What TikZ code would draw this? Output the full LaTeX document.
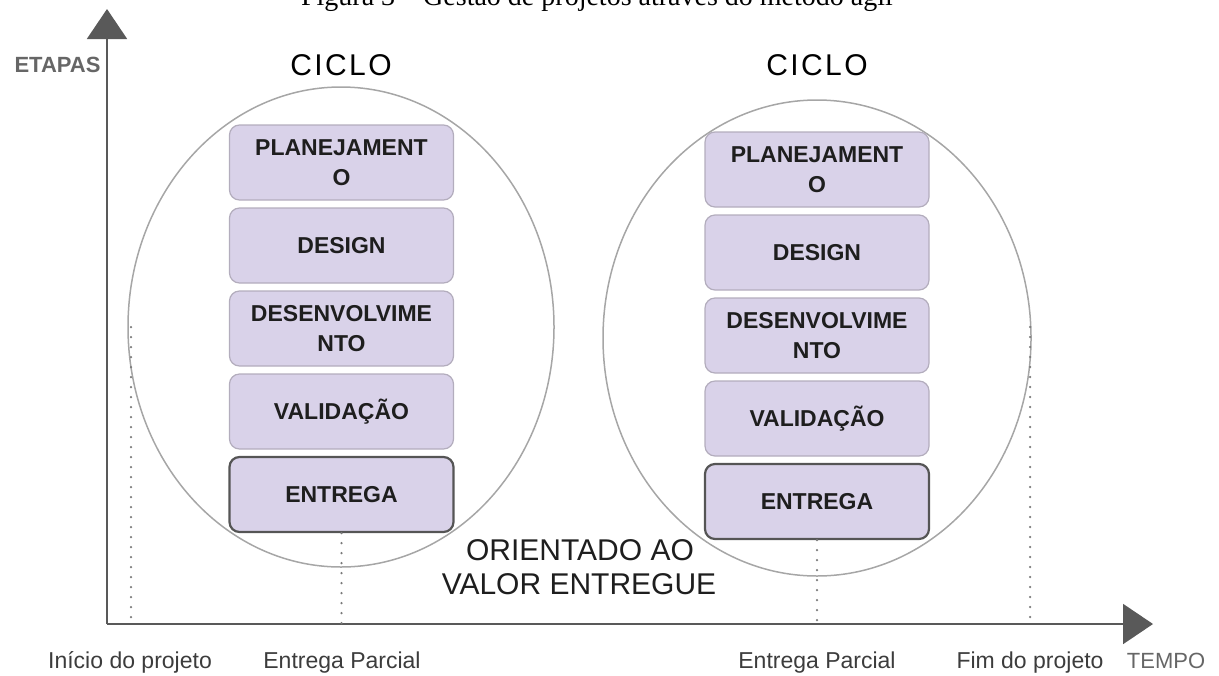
\documentclass[tikz,border=0pt]{standalone}
\usepackage{fontspec}
\setmainfont{Liberation Sans}
\newfontfamily\capfont{Liberation Serif}
\usetikzlibrary{shapes.geometric,arrows.meta}
\definecolor{axisgray}{HTML}{595959}
\definecolor{ringgray}{HTML}{A6A6A6}
\definecolor{dotgray}{HTML}{7A7A7A}
\definecolor{boxfill}{HTML}{D9D2E9}
\definecolor{boxline}{HTML}{B3ADBD}
\definecolor{finalline}{HTML}{555555}
\definecolor{boxtext}{HTML}{1E1E1E}
\definecolor{labelgray}{HTML}{3C3C3C}
\definecolor{axislabel}{HTML}{666666}
\begin{document}
\begin{tikzpicture}[x=0.5pt,y=-0.5pt,
  stagebox/.style={rectangle, rounded corners=5pt, fill=boxfill, draw=boxline, line width=0.6pt,
    minimum width=112pt, minimum height=37.5pt, inner sep=0pt, align=center,
    font=\fontsize{11.5}{15}\selectfont\bfseries, text=boxtext},
  finalbox/.style={stagebox, draw=finalline, line width=1.1pt},
  cycring/.style={ellipse, draw=ringgray, line width=0.75pt, inner sep=0pt, outer sep=0pt},
  axisline/.style={draw=axisgray, line width=1pt, -{Triangle[length=15pt,width=20pt]}},
  guide/.style={draw=dotgray, line width=1.25pt, line cap=round, dash pattern=on 0pt off 5pt},
  ciclo/.style={font=\fontsize{15}{18}\selectfont\addfontfeature{LetterSpace=8}, text=black, anchor=base, inner sep=0pt},
  bigtext/.style={font=\fontsize{15}{18}\selectfont, text=boxtext, anchor=base, inner sep=0pt},
  ticklabel/.style={font=\fontsize{11.5}{14}\selectfont, text=labelgray, anchor=base, inner sep=0pt},
  axlabel/.style={font=\fontsize{11}{14}\selectfont, text=axislabel, anchor=base, inner sep=0pt}
]
\useasboundingbox (0,0) rectangle (1219,675);

% caption (cut off at the top, as in the source)
\node[font=\capfont\fontsize{14}{16}\selectfont, anchor=base, inner sep=0pt] (caption) at (597,5)
  {Figura 3 – Gestão de projetos através do método ágil};

% cycle rings
\node[cycring, minimum width=213pt, minimum height=240pt] (ringA) at (341,327) {};
\node[cycring, minimum width=214pt, minimum height=238pt] (ringB) at (817,338) {};

% axes
\coordinate (origin) at (107,624);
\coordinate (ytip) at (107,9);
\coordinate (xtip) at (1153,624);
\draw[axisline] (origin) -- (ytip);
\draw[axisline] (origin) -- (xtip);

% left cycle stages
\node[stagebox] (planA) at (341.5,162.5) {PLANEJAMENT\\O};
\node[stagebox] (desA)  at (341.5,245.5) {DESIGN};
\node[stagebox] (devA)  at (341.5,328.5) {DESENVOLVIME\\NTO};
\node[stagebox] (valA)  at (341.5,411.5) {VALIDAÇÃO};
\node[finalbox] (entA)  at (341.5,494.5) {ENTREGA};

% right cycle stages
\node[stagebox] (planB) at (817,169.5) {PLANEJAMENT\\O};
\node[stagebox] (desB)  at (817,252.5) {DESIGN};
\node[stagebox] (devB)  at (817,335.5) {DESENVOLVIME\\NTO};
\node[stagebox] (valB)  at (817,418.5) {VALIDAÇÃO};
\node[finalbox] (entB)  at (817,501.5) {ENTREGA};

% dotted guides
\coordinate (startTop) at (131,327);
\coordinate (endTop) at (1030,327);
\draw[guide] (startTop) -- (startTop |- origin);
\draw[guide] (entA.south) -- (entA.south |- origin);
\draw[guide] (entB.south) -- (entB.south |- origin);
\draw[guide] (endTop) -- (endTop |- origin);

% titles
\node[ciclo] (cicloA) at (341,75) {CICLO};
\node[ciclo] (cicloB) at (817,75) {CICLO};
\node[bigtext] (orient1) at (580,560) {ORIENTADO AO};
\node[bigtext] (orient2) at (579,594) {VALOR ENTREGUE};

% axis labels
\node[axlabel, font=\fontsize{11}{14}\selectfont\bfseries] (etapas) at (57.5,72) {ETAPAS};
\node[axlabel] (tempo) at (1166,668) {TEMPO};
\node[ticklabel] (inicio) at (130,668) {Início do projeto};
\node[ticklabel] (parcA) at (342,668) {Entrega Parcial};
\node[ticklabel] (parcB) at (817,668) {Entrega Parcial};
\node[ticklabel] (fim) at (1030,668) {Fim do projeto};
\end{tikzpicture}
\end{document}
